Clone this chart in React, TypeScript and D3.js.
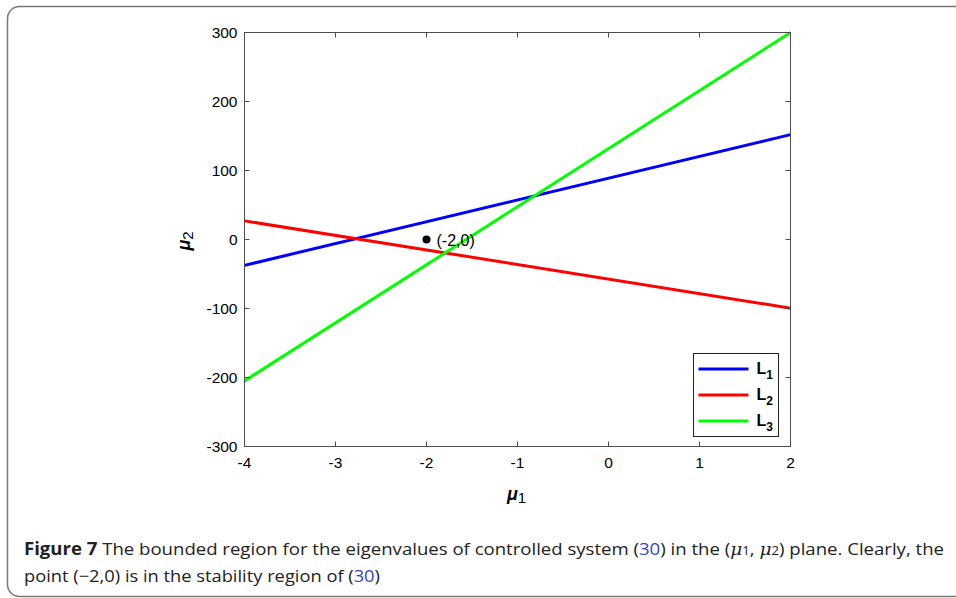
import React, { useEffect, useRef } from "react";
import * as d3 from "d3";

// line end points (mu1 at both ends of the axis)
const mu1Ends = [-4, 2];
const l1Values = [-37.5, 152];
const l2Values = [27, -99.5];
const l3Values = [-205, 300];
const seriesNames = ["1", "2", "3"];
const seriesColors = ["#0000ff", "#ff0000", "#00ff00"];
const xTicks = [-4, -3, -2, -1, 0, 1, 2];
const yTicks = [-300, -200, -100, 0, 100, 200, 300];
const markedPoint = { x: -2, y: 0, label: "(-2,0)" };

const W = 956;
const H = 598;

export default function App() {
  const ref = useRef<SVGSVGElement | null>(null);

  useEffect(() => {
    const svg = d3.select(ref.current);
    svg.selectAll("*").remove();

    // figure frame
    svg
      .append("rect")
      .attr("x", 7.5)
      .attr("y", 6.5)
      .attr("width", 1000)
      .attr("height", 590)
      .attr("rx", 12)
      .attr("fill", "none")
      .attr("stroke", "#777")
      .attr("stroke-width", 1.5);

    const left = 244.5, right = 790.5, top = 32.5, bottom = 446.5;
    const x = d3.scaleLinear().domain([-4, 2]).range([left, right]);
    const y = d3.scaleLinear().domain([-300, 300]).range([bottom, top]);

    const font = "'Liberation Sans', Arial, sans-serif";
    const fs = 15.5;
    const g = svg.append("g");

    // series
    const series = [l1Values, l2Values, l3Values];
    const line = d3
      .line<number>()
      .x((_, i) => x(mu1Ends[i]))
      .y((d) => y(d));
    series.forEach((vals, i) => {
      g.append("path")
        .attr("d", line(vals))
        .attr("fill", "none")
        .attr("stroke", seriesColors[i])
        .attr("stroke-width", 3);
    });

    // plot box
    g.append("rect")
      .attr("x", left)
      .attr("y", top)
      .attr("width", right - left)
      .attr("height", bottom - top)
      .attr("fill", "none")
      .attr("stroke", "#4d4d4d")
      .attr("stroke-width", 1);

    // inward ticks on all four sides
    const tl = 5;
    xTicks.forEach((t) => {
      g.append("line").attr("x1", x(t)).attr("x2", x(t)).attr("y1", bottom).attr("y2", bottom - tl).attr("stroke", "#4d4d4d");
      g.append("line").attr("x1", x(t)).attr("x2", x(t)).attr("y1", top).attr("y2", top + tl).attr("stroke", "#4d4d4d");
      g.append("text")
        .attr("x", x(t))
        .attr("y", bottom + 21)
        .attr("text-anchor", "middle")
        .attr("font-family", font)
        .attr("font-size", fs)
        .attr("fill", "#000")
        .text(String(t));
    });
    yTicks.forEach((t) => {
      g.append("line").attr("x1", left).attr("x2", left + tl).attr("y1", y(t)).attr("y2", y(t)).attr("stroke", "#4d4d4d");
      g.append("line").attr("x1", right).attr("x2", right - tl).attr("y1", y(t)).attr("y2", y(t)).attr("stroke", "#4d4d4d");
      g.append("text")
        .attr("x", left - 7)
        .attr("y", y(t) + 5.5)
        .attr("text-anchor", "end")
        .attr("font-family", font)
        .attr("font-size", fs)
        .attr("fill", "#000")
        .text(String(t));
    });

    // axis labels
    const xl = g
      .append("text")
      .attr("x", 507)
      .attr("y", 500)
      .attr("font-family", font)
      .attr("font-size", 18)
      .attr("fill", "#000");
    xl.append("tspan").attr("font-weight", "bold").attr("font-style", "italic").text("μ");
    xl.append("tspan").attr("dy", 3).attr("font-size", 15).text("1");

    const yl = g
      .append("text")
      .attr("transform", `translate(190,${y(0) + 11}) rotate(-90)`)
      .attr("font-family", font)
      .attr("font-size", 18)
      .attr("fill", "#000");
    yl.append("tspan").attr("font-weight", "bold").attr("font-style", "italic").text("μ");
    yl.append("tspan").attr("dy", 3).attr("font-size", 15).text("2");

    // marked point
    g.append("circle").attr("cx", x(markedPoint.x)).attr("cy", y(markedPoint.y)).attr("r", 4).attr("fill", "#000");
    g.append("text")
      .attr("x", x(markedPoint.x) + 10)
      .attr("y", y(markedPoint.y) + 6)
      .attr("font-family", font)
      .attr("font-size", 16)
      .attr("fill", "#000")
      .text(markedPoint.label);

    // legend
    const lg = g.append("g").attr("transform", "translate(693.5,353.5)");
    lg.append("rect").attr("width", 85).attr("height", 83).attr("fill", "#fff").attr("stroke", "#222");
    seriesNames.forEach((n, i) => {
      const yy = 15.5 + i * 26;
      lg.append("line").attr("x1", 5).attr("x2", 55).attr("y1", yy).attr("y2", yy).attr("stroke", seriesColors[i]).attr("stroke-width", 3);
      const t = lg
        .append("text")
        .attr("x", 63)
        .attr("y", yy + 5)
        .attr("font-family", font)
        .attr("font-size", 16)
        .attr("font-weight", "bold")
        .attr("fill", "#000");
      t.append("tspan").text("L");
      t.append("tspan").attr("dy", 5).attr("font-size", 12).text(n);
    });

    // caption
    const capFont = "'Open Sans', 'Noto Sans', sans-serif";
    const c1 = svg
      .append("text")
      .attr("x", 24)
      .attr("y", 555)
      .attr("font-family", capFont)
      .attr("font-size", 17)
      .attr("fill", "#222")
      .attr("textLength", 920)
      .attr("lengthAdjust", "spacingAndGlyphs");
    c1.append("tspan").attr("font-weight", "bold").text("Figure 7");
    c1.append("tspan").text("  The bounded region for the eigenvalues of controlled system (");
    c1.append("tspan").attr("fill", "#3344cc").text("30");
    c1.append("tspan").text(") in the (");
    c1.append("tspan").attr("font-family", "'DejaVu Serif', serif").attr("font-style", "italic").text("μ");
    c1.append("tspan").attr("font-size", 12).text("1");
    c1.append("tspan").text(", ");
    c1.append("tspan").attr("font-family", "'DejaVu Serif', serif").attr("font-style", "italic").text("μ");
    c1.append("tspan").attr("font-size", 12).text("2");
    c1.append("tspan").text(") plane. Clearly, the");

    const c2 = svg
      .append("text")
      .attr("x", 24)
      .attr("y", 582)
      .attr("font-family", capFont)
      .attr("font-size", 17)
      .attr("fill", "#222")
      .attr("textLength", 356)
      .attr("lengthAdjust", "spacingAndGlyphs");
    c2.append("tspan").text("point (\u22122,0) is in the stability region of (");
    c2.append("tspan").attr("fill", "#3344cc").text("30");
    c2.append("tspan").text(")");
  }, []);

  return (
    <svg
      ref={ref}
      width={W}
      height={H}
      style={{ position: "absolute", left: 0, top: 0, background: "#fff" }}
    />
  );
}
